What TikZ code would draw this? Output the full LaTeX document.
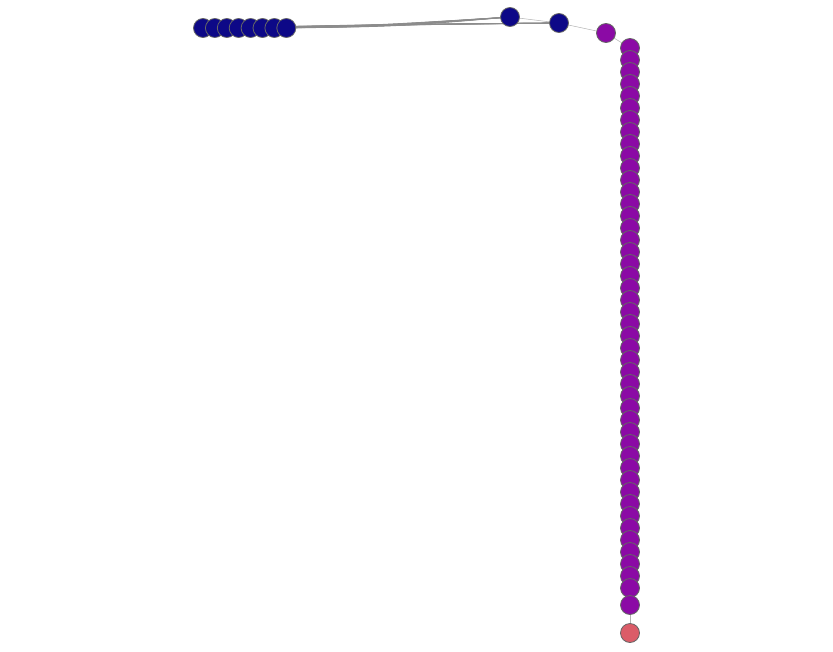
\documentclass[tikz,border=0pt]{standalone}
\usepackage{xcolor}
\usetikzlibrary{positioning,calc,backgrounds}
\definecolor{plasmablue}{HTML}{0D0887}
\definecolor{plasmapurple}{HTML}{8B0AA5}
\definecolor{plasmared}{HTML}{DB5C68}
\tikzstyle{vertex} = [circle, draw=black!60, line width=0.8pt, minimum size=19pt, inner sep=0pt]
\tikzstyle{edge} = [draw=black!45, line width=0.8pt]
\tikzstyle{faint} = [draw=black!30, line width=0.5pt]
\def\colx{630}
\def\gap{12}

\begin{document}
\begin{tikzpicture}[x=1pt,y=-1pt]

\useasboundingbox (0,0) rectangle (833,651);

% left cluster and hubs on the top
\foreach \i in {1,...,8}{
  \node[vertex,fill=plasmablue] (c\i) at ({203+(\i-1)*11.9},28) {};
}
\node[vertex,fill=plasmablue] (a) at (510,17) {};
\node[vertex,fill=plasmablue] (b) at (559,23) {};
\node[vertex,fill=plasmapurple] (c) at (606,33) {};

% column
\foreach \i in {0,...,45}{
  \node[vertex,fill=plasmapurple] (v\i) at (\colx,{48+\i*\gap}) {};
}
\node[vertex,fill=plasmapurple] (w) at (\colx,605) {};
\node[vertex,fill=plasmared] (r) at (\colx,633) {};

% edges
\begin{scope}[on background layer]
\foreach \i in {1,...,8}{
  \draw[edge] (c\i.center) .. controls ($(c\i.center)!0.5!(a.center)+(0,4)$) .. (a.center);
  \draw[edge] (c\i.center) .. controls ($(c\i.center)!0.5!(b.center)+(0,-1)$) .. (b.center);
}
\draw[faint] (a.center) -- (b.center);
\draw[faint] (b.center) -- (c.center);
\draw[faint] (c.center) -- (v0.center);
\draw[faint] (v0.center) -- (r.center);
\end{scope}

\end{tikzpicture}
\end{document}
